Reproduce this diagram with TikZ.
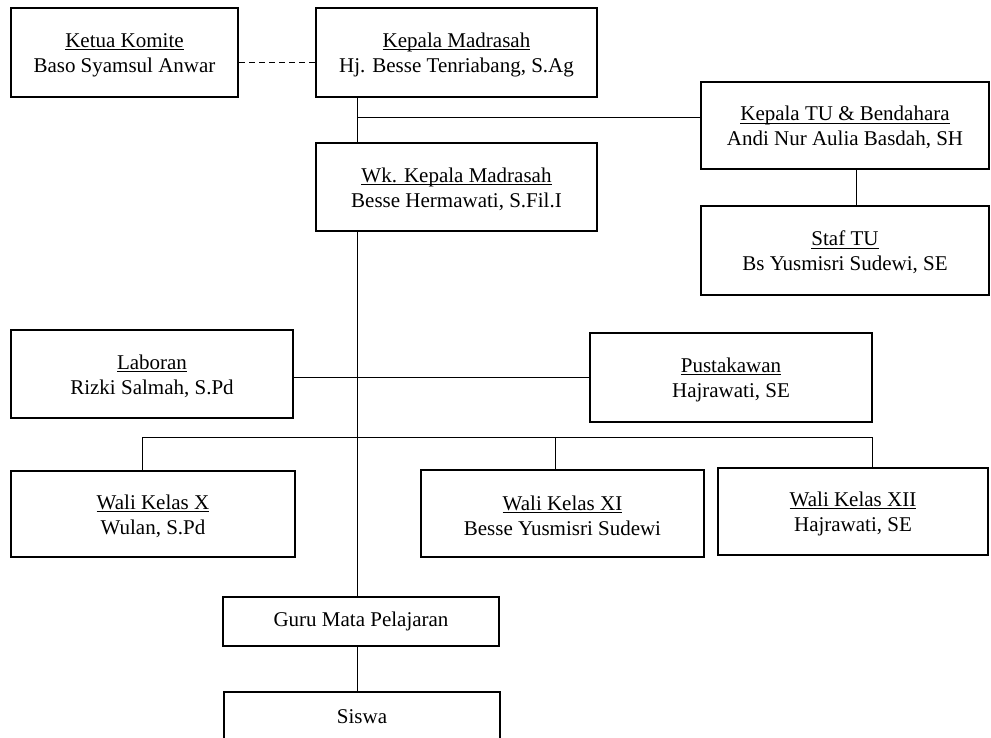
\documentclass[tikz,border=0pt]{standalone}
\usepackage{fontspec}
\setmainfont{Liberation Serif}
\newcommand\myul[1]{\rule{0pt}{19pt}\setbox0\hbox{#1}\rlap{\rule[-3pt]{\wd0}{1pt}}\box0}
\begin{document}
\begin{tikzpicture}[x=1pt,y=-1pt,
  box/.style={draw=black,line width=2.3pt,fill=white,inner sep=0pt,align=center,
    font=\fontsize{21}{25}\selectfont},
  conn/.style={draw=black,line width=1pt}]
\useasboundingbox (0,0) rectangle (991,738);
\fill[white] (0,0) rectangle (991,738);
% nodes
\node[box,minimum width=227pt,minimum height=89pt] (ketua) at (124.5,52.5) {\myul{Ketua Komite}\\Baso Syamsul Anwar};
\node[box,minimum width=281pt,minimum height=89pt] (kepala) at (456.5,52.5) {\myul{Kepala Madrasah}\\Hj. Besse Tenriabang, S.Ag};
\node[box,minimum width=288pt,minimum height=87pt] (tu) at (845,125.5) {\myul{Kepala TU \& Bendahara}\\Andi Nur Aulia Basdah, SH};
\node[box,minimum width=288pt,minimum height=89pt] (staf) at (845,250.5) {\myul{Staf TU}\\Bs Yusmisri Sudewi, SE};
\node[box,minimum width=281pt,minimum height=88pt] (wk) at (456.5,187) {\myul{Wk. Kepala Madrasah}\\Besse Hermawati, S.Fil.I};
\node[box,minimum width=282pt,minimum height=88pt] (lab) at (152,374) {\myul{Laboran}\\Rizki Salmah, S.Pd};
\node[box,minimum width=282pt,minimum height=89pt] (pus) at (731,377.5) {\myul{Pustakawan}\\Hajrawati, SE};
\node[box,minimum width=284pt,minimum height=86pt] (walix) at (153,514) {\myul{Wali Kelas X}\\Wulan, S.Pd};
\node[box,minimum width=283pt,minimum height=87pt] (walixi) at (562.5,513.5) {\myul{Wali Kelas XI}\\Besse Yusmisri Sudewi};
\node[box,minimum width=270pt,minimum height=87pt] (walixii) at (853,511.5) {\myul{Wali Kelas XII}\\Hajrawati, SE};
\node[box,minimum width=276pt,minimum height=49pt] (guru) at (361,621.5) {Guru Mata Pelajaran};
\node[box,minimum width=276pt,minimum height=49pt] (siswa) at (362,716.5) {Siswa};
% helper coordinates
\coordinate (sp) at (357,0);
\coordinate (h1) at (0,118);
\coordinate (tux) at (856,0);
\coordinate (hl) at (0,377);
\coordinate (bl) at (142,437);
\coordinate (br) at (872,437);
\coordinate (bm) at (555,437);
% connectors
\draw[conn,dash pattern=on 6pt off 4pt] ([yshift=-10.5pt]ketua.east) -- ([yshift=-10.5pt]kepala.west);
\draw[conn] (kepala.south -| sp) -- (wk.north -| sp);
\draw[conn] (sp |- h1) -- (tu.west |- h1);
\draw[conn] (tu.south -| tux) -- (staf.north -| tux);
\draw[conn] (wk.south -| sp) -- (guru.north -| sp);
\draw[conn] (lab.east |- hl) -- (pus.west |- hl);
\draw[conn] (bl) -- (br);
\draw[conn] (bl) -- (walix.north -| bl);
\draw[conn] (bm) -- (walixi.north -| bm);
\draw[conn] (br) -- (walixii.north -| br);
\draw[conn] (guru.south -| sp) -- (siswa.north -| sp);
\end{tikzpicture}
\end{document}
